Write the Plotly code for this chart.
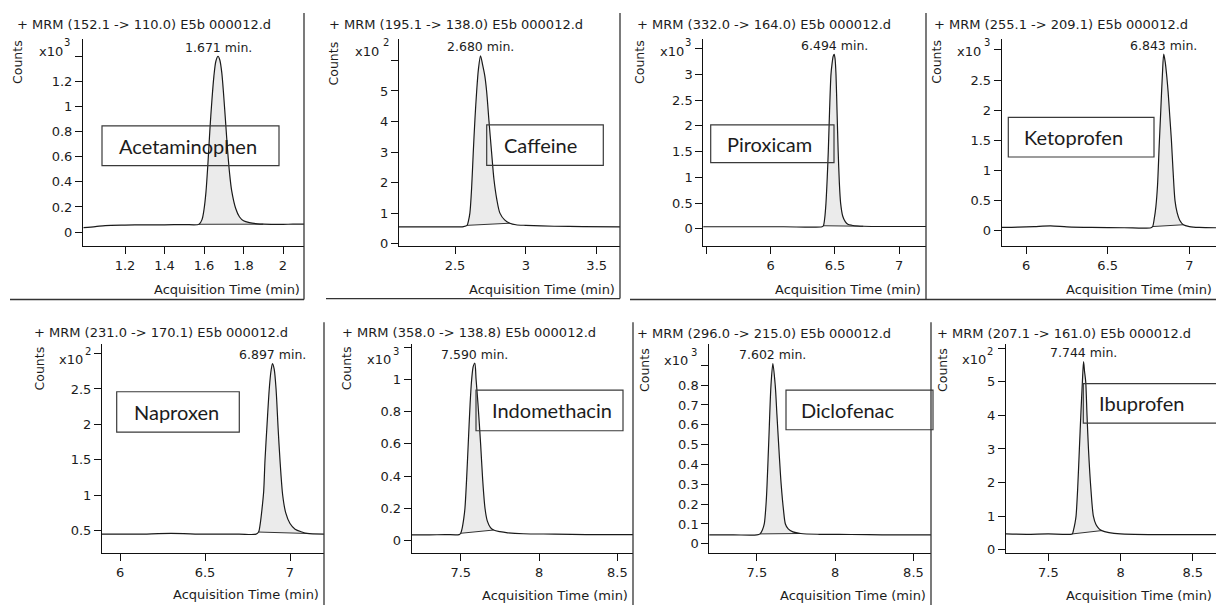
import plotly.graph_objects as go

W, H = 1216, 610

# ---------------- data ----------------
compounds = ["Acetaminophen", "Caffeine", "Piroxicam", "Ketoprofen",
             "Naproxen", "Indomethacin", "Diclofenac", "Ibuprofen"]
transitions = ["152.1 -> 110.0", "195.1 -> 138.0", "332.0 -> 164.0", "255.1 -> 209.1",
               "231.0 -> 170.1", "358.0 -> 138.8", "296.0 -> 215.0", "207.1 -> 161.0"]
data_file = "E5b 000012.d"
retention_times = [1.671, 2.680, 6.494, 6.843, 6.897, 7.590, 7.602, 7.744]
exponents = [3, 2, 3, 3, 2, 3, 3, 2]

# chromatograms: time (min) and counts (in units of 10^exponent)
acet_t = [0.99, 1.05, 1.10, 1.20, 1.30, 1.40, 1.50, 1.575, 1.59, 1.60, 1.61, 1.62, 1.63, 1.64,
          1.65, 1.66, 1.671, 1.68, 1.69, 1.70, 1.71, 1.72, 1.73, 1.74, 1.76, 1.78, 1.80, 1.83,
          1.87, 1.90, 1.95, 2.00, 2.05, 2.11]
acet_y = [0.035, 0.043, 0.052, 0.056, 0.058, 0.058, 0.060, 0.062, 0.10, 0.18, 0.32, 0.55, 0.82,
          1.05, 1.24, 1.36, 1.40, 1.37, 1.27, 1.08, 0.86, 0.64, 0.46, 0.33, 0.19, 0.12, 0.09,
          0.075, 0.066, 0.063, 0.062, 0.062, 0.063, 0.063]
acet_int = [1.575, 1.90]

caff_t = [2.10, 2.30, 2.45, 2.56, 2.585, 2.595, 2.605, 2.617, 2.629, 2.641, 2.653, 2.665, 2.680,
          2.695, 2.71, 2.723, 2.74, 2.758, 2.775, 2.795, 2.817, 2.85, 2.887, 2.93, 3.00, 3.20,
          3.40, 3.67]
caff_y = [0.55, 0.55, 0.55, 0.56, 0.60, 0.75, 1.0, 1.8, 3.0, 4.1, 5.0, 5.7, 6.15, 5.85, 5.5, 5.0,
          4.0, 3.0, 2.1, 1.45, 1.0, 0.78, 0.67, 0.62, 0.60, 0.57, 0.56, 0.55]
caff_int = [2.585, 2.887]

pirox_t = [5.47, 5.80, 6.10, 6.40, 6.41, 6.42, 6.43, 6.44, 6.448, 6.458, 6.469, 6.477, 6.486,
           6.494, 6.501, 6.508, 6.516, 6.525, 6.534, 6.544, 6.56, 6.58, 6.60, 6.63, 6.68, 6.72,
           6.90, 7.21]
pirox_y = [0.04, 0.04, 0.04, 0.04, 0.06, 0.2, 0.5, 1.0, 1.5, 2.3, 3.0, 3.2, 3.35, 3.39, 3.3, 3.0,
           2.3, 1.5, 0.9, 0.5, 0.25, 0.14, 0.09, 0.07, 0.055, 0.05, 0.045, 0.045]
pirox_int = [6.41, 6.72]

keto_t = [5.85, 5.95, 6.05, 6.15, 6.25, 6.40, 6.60, 6.765, 6.775, 6.785, 6.795, 6.805, 6.815,
          6.825, 6.835, 6.843, 6.852, 6.862, 6.87, 6.88, 6.89, 6.90, 6.912, 6.925, 6.94, 6.963,
          7.00, 7.06, 7.17]
keto_y = [0.055, 0.06, 0.07, 0.08, 0.065, 0.055, 0.05, 0.05, 0.07, 0.2, 0.4, 0.75, 1.4, 2.0, 2.6,
          2.93, 2.8, 2.55, 2.3, 1.9, 1.5, 1.0, 0.5, 0.3, 0.18, 0.1, 0.07, 0.055, 0.05]
keto_int = [6.775, 6.963]

napro_t = [5.89, 6.10, 6.30, 6.50, 6.70, 6.80, 6.815, 6.825, 6.835, 6.845, 6.853, 6.865, 6.878,
           6.888, 6.897, 6.907, 6.918, 6.93, 6.941, 6.957, 6.975, 7.00, 7.03, 7.07, 7.10, 7.20]
napro_y = [0.45, 0.45, 0.46, 0.45, 0.45, 0.45, 0.48, 0.6, 0.8, 1.05, 1.5, 2.0, 2.5, 2.75, 2.86,
           2.78, 2.5, 1.95, 1.5, 1.0, 0.75, 0.6, 0.52, 0.48, 0.46, 0.45]
napro_int = [6.815, 7.10]

indo_t = [7.18, 7.30, 7.40, 7.49, 7.50, 7.51, 7.52, 7.527, 7.537, 7.548, 7.56, 7.57, 7.58, 7.59,
          7.598, 7.61, 7.627, 7.64, 7.655, 7.67, 7.69, 7.71, 7.75, 7.80, 7.90, 8.10, 8.30, 8.61]
indo_y = [0.035, 0.035, 0.037, 0.037, 0.045, 0.08, 0.14, 0.2, 0.37, 0.6, 0.85, 1.0, 1.08, 1.10,
          1.0, 0.85, 0.6, 0.38, 0.2, 0.12, 0.08, 0.065, 0.055, 0.048, 0.042, 0.04, 0.037, 0.037]
indo_int = [7.50, 7.71]

diclo_t = [7.19, 7.35, 7.50, 7.52, 7.535, 7.547, 7.56, 7.575, 7.59, 7.602, 7.617, 7.628, 7.639,
           7.655, 7.67, 7.682, 7.70, 7.73, 7.78, 7.90, 8.10, 8.30, 8.62]
diclo_y = [0.045, 0.045, 0.045, 0.05, 0.07, 0.1, 0.22, 0.5, 0.8, 0.908, 0.8, 0.65, 0.5, 0.3, 0.17,
           0.1, 0.075, 0.06, 0.052, 0.048, 0.047, 0.045, 0.045]
diclo_int = [7.52, 7.78]

ibu_t = [7.20, 7.35, 7.50, 7.60, 7.665, 7.675, 7.685, 7.692, 7.703, 7.715, 7.726, 7.736, 7.744,
         7.751, 7.759, 7.768, 7.778, 7.795, 7.812, 7.83, 7.85, 7.87, 7.92, 8.00, 8.20, 8.40, 8.67]
ibu_y = [0.47, 0.46, 0.47, 0.46, 0.47, 0.6, 0.8, 1.0, 1.8, 3.0, 4.1, 5.0, 5.6, 5.3, 5.0, 4.0, 3.0,
         1.8, 1.0, 0.75, 0.63, 0.57, 0.51, 0.47, 0.45, 0.45, 0.45]
ibu_int = [7.665, 7.87]

series_t = [acet_t, caff_t, pirox_t, keto_t, napro_t, indo_t, diclo_t, ibu_t]
series_y = [acet_y, caff_y, pirox_y, keto_y, napro_y, indo_y, diclo_y, ibu_y]
series_int = [acet_int, caff_int, pirox_int, keto_int, napro_int, indo_int, diclo_int, ibu_int]

# axis ticks
y_tickvals = [[0, 0.2, 0.4, 0.6, 0.8, 1, 1.2, 1.4],
              [0, 1, 2, 3, 4, 5, 6],
              [0, 0.5, 1, 1.5, 2, 2.5, 3, 3.5],
              [0, 0.5, 1, 1.5, 2, 2.5, 3],
              [0.5, 1, 1.5, 2, 2.5, 3],
              [0, 0.2, 0.4, 0.6, 0.8, 1, 1.2],
              [0, 0.1, 0.2, 0.3, 0.4, 0.5, 0.6, 0.7, 0.8, 0.9],
              [0, 1, 2, 3, 4, 5, 6]]
y_ticktext = [["0", "0.2", "0.4", "0.6", "0.8", "1", "1.2", ""],
              ["0", "1", "2", "3", "4", "5", ""],
              ["0", "0.5", "1", "1.5", "2", "2.5", "3", ""],
              ["0", "0.5", "1", "1.5", "2", "2.5", ""],
              ["0.5", "1", "1.5", "2", "2.5", ""],
              ["0", "0.2", "0.4", "0.6", "0.8", "1", ""],
              ["0", "0.1", "0.2", "0.3", "0.4", "0.5", "0.6", "0.7", "0.8", ""],
              ["0", "1", "2", "3", "4", "5", ""]]
x_tickvals = [[1.2, 1.4, 1.6, 1.8, 2], [2.5, 3, 3.5], [5.5, 6, 6.5, 7], [6, 6.5, 7],
              [6, 6.5, 7], [7.5, 8, 8.5], [7.5, 8, 8.5], [7.5, 8, 8.5]]
x_ticktext = [["1.2", "1.4", "1.6", "1.8", "2"], ["2.5", "3", "3.5"], ["", "6", "6.5", "7"],
              ["6", "6.5", "7"], ["6", "6.5", "7"], ["7.5", "8", "8.5"], ["7.5", "8", "8.5"],
              ["7.5", "8", "8.5"]]
x_title = "Acquisition Time (min)"
y_title = "Counts"

# ---------------- layout (pixel positions) ----------------
panels = [
    dict(xd=(83, 304), yd=(39, 248), xr=(0.9873, 2.1063), yr=(-0.1106, 1.540),
         title=(15, 25), counts=(18, 62.5), x10=(37, 52), sup=(67, 43.3),
         box=(102, 127, 279, 167), label=117, xlab=(302, 292)),
    dict(xd=(399, 620), yd=(39, 248), xr=(2.1048, 3.6644), yr=(-0.075, 6.711),
         title=(327, 25), counts=(333, 64), x10=(353, 52), sup=(386, 43.3),
         box=(486.7, 126, 603.3, 166.7), label=501.7, xlab=(617, 292)),
    dict(xd=(703.3, 926), yd=(39, 248), xr=(5.476, 7.208), yr=(-0.333, 3.694),
         title=(635, 25), counts=(640, 62.5), x10=(658, 51.7), sup=(688, 43.3),
         box=(710.7, 126, 834, 164), label=725, xlab=(923, 292)),
    dict(xd=(1001.7, 1216), yd=(39, 248), xr=(5.851, 7.163), yr=(-0.252, 3.186),
         title=(931.7, 25), counts=(936.7, 62.5), x10=(955, 51.7), sup=(986.7, 43.3),
         box=(1008.3, 118.3, 1154, 158.3), label=1021.7, xlab=(1214, 292)),
    dict(xd=(102, 324), yd=(347, 558), xr=(5.894, 7.200), yr=(0.178, 3.133),
         title=(32, 335), counts=(39, 371.5), x10=(57, 362), sup=(88, 354),
         box=(116.7, 395, 239.3, 435.7), label=131.7, xlab=(321, 599)),
    dict(xd=(411.7, 633), yd=(347, 558), xr=(7.187, 8.600), yr=(-0.08, 1.218),
         title=(340, 335), counts=(346.7, 371.5), x10=(365, 362), sup=(396, 354),
         box=(476, 393.3, 623, 434.3), label=490, xlab=(630, 600)),
    dict(xd=(709.3, 931), yd=(347, 558), xr=(7.196, 8.612), yr=(-0.0485, 1.0065),
         title=(635, 336.5), counts=(645, 373), x10=(661.7, 363), sup=(694, 355),
         box=(786, 393.3, 933, 433.3), label=799, xlab=(928, 600)),
    dict(xd=(1006, 1216), yd=(347, 558), xr=(7.207, 8.661), yr=(-0.11, 6.12),
         title=(935, 336.5), counts=(943, 373), x10=(960, 362), sup=(990, 354),
         box=(1083.3, 386.7, 1230, 426.7), label=1096.7, xlab=(1214, 600)),
]
frame_lines = [(10, 302, 304, 302), (304, 13, 304, 302), (326, 301, 620, 301), (620, 13, 620, 301),
               (630, 302, 926, 302), (926, 13, 926, 302), (926, 302, 1216, 302),
               (324, 325, 324, 610), (633, 325, 633, 610), (931, 325, 931, 610)]

FONT = "DejaVu Sans"
TXT = "#1c1c1c"
LINE = "#1a1a1a"


def px(x):
    return x / W


def py(y):
    return 1 - y / H


fig = go.Figure()
annotations = []
shapes = []
layout_axes = {}

for i in range(8):
    p = panels[i]
    n = "" if i == 0 else str(i + 1)
    xa, ya = "x" + n, "y" + n
    t, y = series_t[i], series_y[i]
    s, e = series_int[i]
    idx = [k for k in range(len(t)) if s <= t[k] <= e]
    ft = [t[k] for k in idx]
    fy = [y[k] for k in idx]
    # filled integrated area
    fig.add_trace(go.Scatter(x=ft, y=fy, mode="lines", fill="toself", fillcolor="#ebebeb",
                             line=dict(width=0, shape="spline", smoothing=0.8),
                             xaxis=xa, yaxis=ya, hoverinfo="skip", showlegend=False))
    # integration baseline
    fig.add_trace(go.Scatter(x=[ft[0], ft[-1]], y=[fy[0], fy[-1]], mode="lines",
                             line=dict(color="#333333", width=1), xaxis=xa, yaxis=ya,
                             hoverinfo="skip", showlegend=False))
    # chromatogram
    fig.add_trace(go.Scatter(x=t, y=y, mode="lines",
                             line=dict(color=LINE, width=1.2, shape="spline", smoothing=0.8),
                             xaxis=xa, yaxis=ya, hoverinfo="skip", showlegend=False))

    common = dict(showline=True, linecolor="#111", linewidth=1, ticks="outside", ticklen=7,
                  tickwidth=1, tickcolor="#111", showgrid=False, zeroline=False,
                  tickfont=dict(family=FONT, size=13, color=TXT), fixedrange=True)
    layout_axes["xaxis" + n] = dict(domain=[px(p["xd"][0]), px(p["xd"][1])], range=list(p["xr"]),
                                    anchor=ya, tickmode="array", tickvals=x_tickvals[i],
                                    ticktext=x_ticktext[i], **common)
    layout_axes["yaxis" + n] = dict(domain=[py(p["yd"][1]), py(p["yd"][0])], range=list(p["yr"]),
                                    anchor=xa, tickmode="array", tickvals=y_tickvals[i],
                                    ticktext=y_ticktext[i], **common)

    # texts
    annotations.append(dict(text="+ MRM (" + transitions[i] + ") " + data_file, xref="paper",
                            yref="paper", x=px(p["title"][0]), y=py(p["title"][1]), xanchor="left",
                            yanchor="middle", showarrow=False,
                            font=dict(family=FONT, size=13, color=TXT)))
    annotations.append(dict(text=y_title, xref="paper", yref="paper", x=px(p["counts"][0]),
                            y=py(p["counts"][1]), textangle=-90, xanchor="center",
                            yanchor="middle", showarrow=False,
                            font=dict(family=FONT, size=12.5, color=TXT)))
    annotations.append(dict(text="x10", xref="paper", yref="paper", x=px(p["x10"][0]),
                            y=py(p["x10"][1]), xanchor="left", yanchor="middle", showarrow=False,
                            font=dict(family=FONT, size=13, color=TXT)))
    annotations.append(dict(text=str(exponents[i]), xref="paper", yref="paper", x=px(p["sup"][0]),
                            y=py(p["sup"][1]), xanchor="center", yanchor="middle", showarrow=False,
                            font=dict(family=FONT, size=10, color=TXT)))
    annotations.append(dict(text=x_title, xref="paper", yref="paper", x=px(p["xlab"][0]),
                            y=py(p["xlab"][1]), xanchor="right", yanchor="middle", showarrow=False,
                            font=dict(family=FONT, size=13, color=TXT)))
    # peak label
    apex = max(y)
    annotations.append(dict(text="%.3f min." % retention_times[i], xref=xa, yref=ya,
                            x=retention_times[i], y=apex, xanchor="center", yanchor="middle",
                            yshift=9, showarrow=False,
                            font=dict(family=FONT, size=12.5, color=TXT)))
    # compound label box
    bx0, by0, bx1, by1 = p["box"]
    shapes.append(dict(type="rect", xref="paper", yref="paper", x0=px(bx0), x1=px(bx1),
                       y0=py(by1), y1=py(by0), line=dict(color="#3a3a3a", width=1.2),
                       fillcolor="rgba(0,0,0,0)", layer="above"))
    annotations.append(dict(text=compounds[i], xref="paper", yref="paper", x=px(p["label"]),
                            y=py((by0 + by1) / 2), xanchor="left", yanchor="middle",
                            showarrow=False, font=dict(family="Lato", size=20, color=TXT)))

for (x0, y0, x1, y1) in frame_lines:
    shapes.append(dict(type="line", xref="paper", yref="paper", x0=px(x0), x1=px(x1),
                       y0=py(y0), y1=py(y1), line=dict(color="#333", width=1.3)))

fig.update_layout(width=W, height=H, autosize=False, margin=dict(l=0, r=0, t=0, b=0),
                  paper_bgcolor="white", plot_bgcolor="rgba(0,0,0,0)",
                  annotations=annotations, shapes=shapes, **layout_axes)

fig.write_html("out.html")
